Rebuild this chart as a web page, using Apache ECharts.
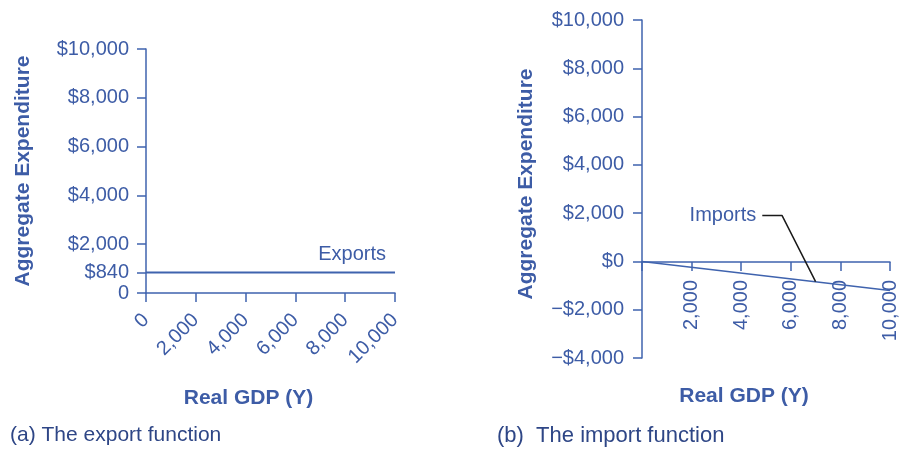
<!DOCTYPE html>
<html>
<head>
<meta charset="utf-8">
<script src="https://cdn.jsdelivr.net/npm/echarts@6/dist/echarts.min.js"></script>
<style>html,body{margin:0;padding:0;background:#fff}#c{width:899px;height:451px}</style>
</head>
<body>
<div id="c"></div>
<script>
// ---- data ----
const gdpTicks = [0, 2000, 4000, 6000, 8000, 10000];
const exportsLeftYTicks = [0, 840, 2000, 4000, 6000, 8000, 10000];
const exportsGDP = [0, 10000];
const exportsValues = [840, 840];
const importsGDP = [0, 10000];
const importsValues = [0, -1200];
const importsCalloutGDP = [4850, 5650, 7000];
const importsCalloutValues = [1900, 1900, -840];
const captions = ['(a) The export function', '(b)  The import function'];

// ---- styles ----
const FONT = "'Liberation Sans', Arial, sans-serif";
const TXT = '#3d5ca6';
const AX = '#3f63ae';
const CAP = '#2e4686';

const fmtNum = v => v.toLocaleString('en-US');
const fmtMoney = v => (v < 0 ? '\u2212$' : '$') + Math.abs(v).toLocaleString('en-US');

const axisLineStyle = { show: true, onZero: false, lineStyle: { color: AX, width: 1.5 } };
const tickStyle = { show: true, length: 9, lineStyle: { color: AX, width: 1.5 } };
const nameStyle = { fontFamily: FONT, fontSize: 21, fontWeight: 'bold', color: TXT };
const LBL = 20;

const pairs = (xs, ys) => xs.map((x, i) => [x, ys[i]]);

const chart = echarts.init(document.getElementById('c'), null, { renderer: 'canvas' });
chart.setOption({
  backgroundColor: '#fff',
  animation: false,
  title: [
    { text: captions[0], left: 10, top: 425, padding: 0,
      textStyle: { fontFamily: FONT, fontSize: 21, fontWeight: 'normal', color: CAP } },
    { text: captions[1], left: 497, top: 425, padding: 0,
      textStyle: { fontFamily: FONT, fontSize: 22, fontWeight: 'normal', color: CAP } }
  ],
  grid: [
    { left: 146, top: 49, width: 249, height: 244, outerBoundsMode: 'none', containLabel: false },
    { left: 642, top: 20, width: 248, height: 338, outerBoundsMode: 'none', containLabel: false },
    { left: 642, top: 20, width: 248, height: 242, outerBoundsMode: 'none', containLabel: false }
  ],
  xAxis: [
    {
      gridIndex: 0, type: 'value', min: 0, max: 10000, interval: 2000,
      name: 'Real GDP (Y)', nameLocation: 'middle', nameGap: 95,
      nameTextStyle: Object.assign({ padding: [0, 44, 0, 0] }, nameStyle),
      axisLine: axisLineStyle, axisTick: tickStyle, splitLine: { show: false },
      axisLabel: { rotate: 45, margin: 24, fontFamily: FONT, fontSize: LBL, color: TXT,
        formatter: v => fmtNum(v) }
    },
    {
      gridIndex: 1, type: 'value', min: 0, max: 10000, interval: 2000, show: false
    },
    {
      gridIndex: 2, type: 'value', min: 0, max: 10000, interval: 2000,
      name: 'Real GDP (Y)', nameLocation: 'middle', nameGap: 124,
      nameTextStyle: Object.assign({ padding: [0, 44, 0, 0] }, nameStyle),
      axisLine: axisLineStyle, axisTick: tickStyle, splitLine: { show: false },
      axisLabel: { rotate: 90, margin: 18, fontFamily: FONT, fontSize: LBL, color: TXT,
        formatter: v => (v === 0 ? '' : fmtNum(v)) }
    }
  ],
  yAxis: [
    {
      gridIndex: 0, type: 'value', min: 0, max: 10000,
      name: 'Aggregate Expenditure', nameLocation: 'middle', nameGap: 112,
      nameTextStyle: nameStyle,
      axisLine: axisLineStyle,
      axisTick: Object.assign({ customValues: exportsLeftYTicks }, tickStyle),
      splitLine: { show: false },
      axisLabel: { customValues: exportsLeftYTicks, margin: 17, fontFamily: FONT, fontSize: LBL, color: TXT,
        formatter: v => (v === 0 ? '0' : fmtMoney(v)) }
    },
    {
      gridIndex: 1, type: 'value', min: -4000, max: 10000, interval: 2000,
      name: 'Aggregate Expenditure', nameLocation: 'middle', nameGap: 105,
      nameTextStyle: Object.assign({ padding: [0, 0, 0, 10] }, nameStyle),
      axisLine: axisLineStyle, axisTick: tickStyle, splitLine: { show: false },
      axisLabel: { margin: 18, fontFamily: FONT, fontSize: LBL, color: TXT,
        formatter: v => fmtMoney(v) }
    },
    {
      gridIndex: 2, type: 'value', min: 0, max: 10000, show: false
    }
  ],
  series: [
    {
      type: 'line', xAxisIndex: 0, yAxisIndex: 0, name: 'Exports',
      data: pairs(exportsGDP, exportsValues).map((p, i) => i === exportsGDP.length - 1
        ? { value: p, label: { show: true, formatter: 'Exports', position: 'left', offset: [-4, -18],
            fontFamily: FONT, fontSize: LBL, color: TXT } }
        : { value: p }),
      symbol: 'circle', symbolSize: 0, showSymbol: true,
      lineStyle: { color: AX, width: 2 }, silent: true
    },
    {
      type: 'line', xAxisIndex: 1, yAxisIndex: 1, name: 'Imports',
      data: pairs(importsGDP, importsValues),
      symbol: 'none', lineStyle: { color: AX, width: 1.5 }, silent: true
    },
    {
      type: 'line', xAxisIndex: 1, yAxisIndex: 1, name: 'Imports callout',
      data: pairs(importsCalloutGDP, importsCalloutValues).map((p, i) => i === 0
        ? { value: p, label: { show: true, formatter: 'Imports', position: 'left', distance: 6,
            fontFamily: FONT, fontSize: LBL, color: TXT } }
        : { value: p }),
      symbol: 'circle', symbolSize: 0, showSymbol: true,
      lineStyle: { color: '#1a1a1a', width: 1.5 }, silent: true
    }
  ]
});
</script>
</body>
</html>
